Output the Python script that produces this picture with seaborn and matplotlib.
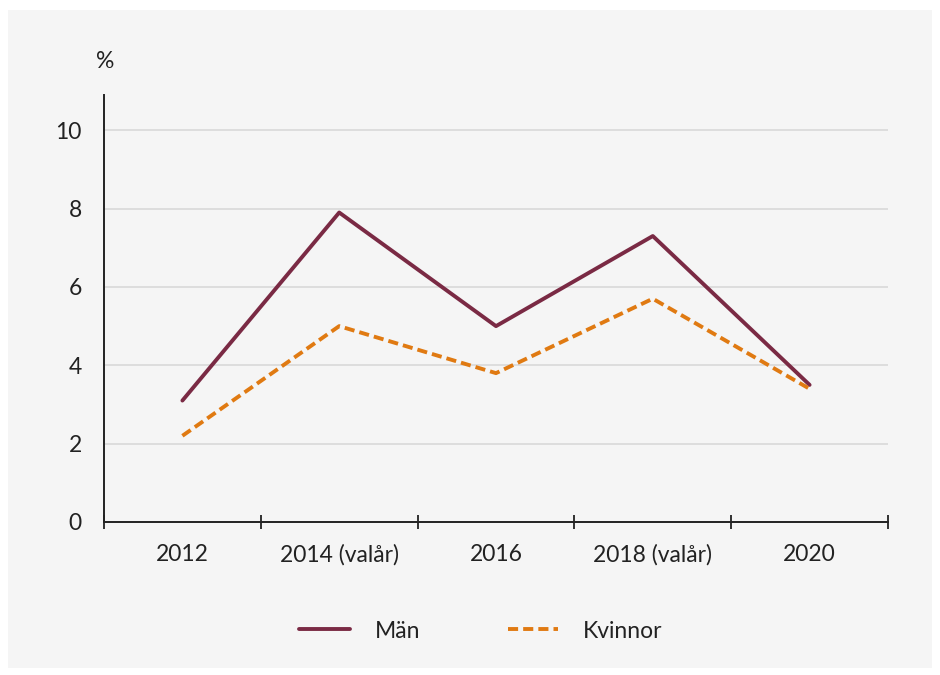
import matplotlib
matplotlib.use("Agg")
import matplotlib.pyplot as plt
import seaborn as sns
import pandas as pd
from matplotlib.patches import Rectangle
from matplotlib.ticker import FixedLocator
from matplotlib.lines import Line2D

years = ["2012", "2014 (valår)", "2016", "2018 (valår)", "2020"]
man = [3.1, 7.9, 5.0, 7.3, 3.5]
kvinnor = [2.2, 5.0, 3.8, 5.7, 3.4]
series_names = ["Män", "Kvinnor"]
y_ticks = [0, 2, 4, 6, 8, 10]

df = pd.DataFrame({
    "År": years * 2,
    "Andel": man + kvinnor,
    "Grupp": [series_names[0]] * len(years) + [series_names[1]] * len(years),
})

sns.set_theme(style="white")
plt.rcParams["font.family"] = ["Lato", "DejaVu Sans"]

bg = "#f5f5f5"
fig = plt.figure(figsize=(9.4, 6.75), dpi=100, facecolor="white")
bgrect = Rectangle((8 / 940, 1 - 668 / 675), (932 - 8) / 940, (668 - 10) / 675,
                   transform=fig.transFigure, facecolor=bg, edgecolor="none", zorder=-10)
fig.patches.append(bgrect)
ax = fig.add_axes([104 / 940, 1 - 522 / 675, (888 - 104) / 940, (522 - 95) / 675])
ax.set_facecolor(bg)
ax.set_zorder(1)

palette = {"Män": "#7a2a44", "Kvinnor": "#e07a12"}
dashes = {"Män": "", "Kvinnor": (2.6, 1.3)}
sns.lineplot(data=df, x="År", y="Andel", hue="Grupp", style="Grupp", palette=palette,
             dashes=dashes, linewidth=2.8, ax=ax, legend=False, sort=False)

ax.set_xlim(-0.5, 4.5)
ax.set_ylim(0, 10.9)
ax.set_yticks(y_ticks)
ax.set_yticklabels([str(v) for v in y_ticks])
ax.yaxis.grid(True, color="#d9d9d9", linewidth=1.2)
ax.set_axisbelow(True)
ax.set_xticks(range(len(years)))
ax.set_xticklabels(years)
ax.xaxis.set_minor_locator(FixedLocator([i - 0.5 for i in range(len(years) + 1)]))
ax.tick_params(axis="x", which="both", bottom=True)
ax.tick_params(axis="x", which="major", length=0, pad=16, labelsize=16.5, colors="#222222")
ax.tick_params(axis="x", which="minor", length=10, width=1.3, direction="inout", color="#222222")
ax.tick_params(axis="y", which="both", length=0, pad=16, labelsize=16.5, colors="#222222")

for s in ["top", "right"]:
    ax.spines[s].set_visible(False)
for s in ["left", "bottom"]:
    ax.spines[s].set_color("#222222")
    ax.spines[s].set_linewidth(1.4)
    ax.spines[s].set_zorder(3)
ax.set_xlabel("")
ax.set_ylabel("")

fig.text(105 / 940, 1 - 62 / 675, "%", ha="center", va="center", fontsize=16.5, color="#222222")

handles = [Line2D([], [], color=palette["Män"], linewidth=2.8),
           Line2D([], [], color=palette["Kvinnor"], linewidth=2.8, linestyle=(0, (2.6, 1.3)))]
fig.legend(handles, series_names, loc="center", bbox_to_anchor=(481 / 940, 1 - 631 / 675),
           ncol=2, frameon=False, fontsize=16.5, handlelength=2.2, handletextpad=1.1,
           columnspacing=3.8, labelcolor="#222222")

fig.savefig("out.png", dpi=100, facecolor="white")
